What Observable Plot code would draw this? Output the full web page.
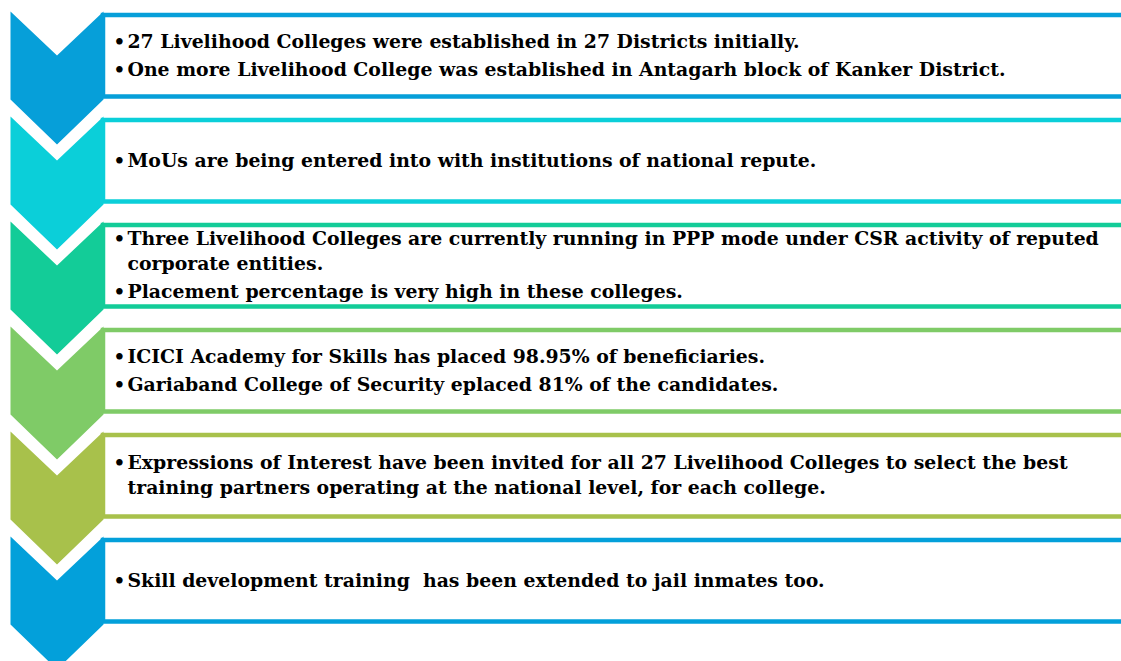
<!DOCTYPE html>
<html>
<head>
<meta charset="utf-8">
<script src="https://cdn.jsdelivr.net/npm/d3@7"></script>
<script src="https://cdn.jsdelivr.net/npm/@observablehq/plot@0.6"></script>
<style>
  html, body { margin: 0; padding: 0; background: #ffffff; }
  #chart svg text { white-space: pre; }
</style>
</head>
<body>
<div id="chart"></div>
<script>
// ---- data: one entry per step; each step holds paragraphs (bullets), each paragraph holds its lines
const step1 = [
  ["27 Livelihood Colleges were established in 27 Districts initially."],
  ["One more Livelihood College was established in Antagarh block of Kanker District."]
];
const step2 = [
  ["MoUs are being entered into with institutions of national repute."]
];
const step3 = [
  ["Three Livelihood Colleges are currently running in PPP mode under CSR activity of reputed", "corporate entities."],
  ["Placement percentage is very high in these colleges."]
];
const step4 = [
  ["ICICI Academy for Skills has placed 98.95% of beneficiaries."],
  ["Gariaband College of Security eplaced 81% of the candidates."]
];
const step5 = [
  ["Expressions of Interest have been invited for all 27 Livelihood Colleges to select the best", "training partners operating at the national level, for each college."]
];
const step6 = [
  ["Skill development training  has been extended to jail inmates too."]
];
const steps = [step1, step2, step3, step4, step5, step6];
const stepIds = ["1", "2", "3", "4", "5", "6"];

// ---- styles
const palette = ["#069fd9", "#0bcfd9", "#13cc98", "#7fcb67", "#a8c14b", "#03a0da"];
const W = 1121, H = 661;
const FONT = '"DejaVu Serif", serif';
const fontSize = 18.4;

// ---- layout (derived from step index)
const STEP = 105, BOX_TOP = 15, BOX_BOTTOM = 96.5;
const CHEV_X1 = 10, CHEV_X2 = 103;
const LINE_GAP = 25, PARA_GAP = 28;

const boxes = stepIds.map((id, i) => ({
  id, x1: CHEV_X2, x2: W + 10,
  y1: BOX_TOP + STEP * i, y2: BOX_BOTTOM + STEP * i
}));

const chevrons = [];
stepIds.forEach((id, i) => {
  const t = BOX_TOP + STEP * i - 4;
  const mid = (CHEV_X1 + CHEV_X2) / 2;
  [[CHEV_X1, t], [mid, t + 44], [CHEV_X2, t], [CHEV_X2, t + 88], [mid, t + 133], [CHEV_X1, t + 88]]
    .forEach(([x, y]) => chevrons.push({id, x, y}));
});

const lines = [], bullets = [];
steps.forEach((paras, i) => {
  const offs = [];
  let o = 0, first = true;
  paras.forEach((p) => {
    p.forEach((txt, li) => {
      if (!first) o += (li === 0 ? PARA_GAP : LINE_GAP);
      first = false;
      offs.push({txt, li, o});
    });
  });
  const c = (boxes[i].y1 + boxes[i].y2) / 2 + 5.5 - o / 2;
  offs.forEach(({txt, li, o}) => {
    lines.push({id: stepIds[i], text: txt, x: 127, y: c + o});
    if (li === 0) bullets.push({id: stepIds[i], text: "•", x: 113, y: c + o});
  });
});

const textOpts = {
  text: "text", x: "x", y: "y", textAnchor: "start", lineAnchor: "bottom",
  fontSize, fontWeight: "bold", fontFamily: FONT, fill: "#000000"
};

const chart = Plot.plot({
  width: W, height: H, margin: 0,
  x: {domain: [0, W], range: [0, W], axis: null},
  y: {domain: [0, H], range: [0, H], axis: null},
  color: {domain: stepIds, range: palette},
  style: {background: "#ffffff", fontFamily: FONT},
  marks: [
    Plot.rect(boxes, {x1: "x1", x2: "x2", y1: "y1", y2: "y2", fill: "#ffffff", stroke: "id", strokeWidth: 4.5}),
    Plot.line(chevrons, {x: "x", y: "y", z: "id", fill: "id", stroke: null, curve: "linear-closed"}),
    Plot.text(bullets, textOpts),
    Plot.text(lines, textOpts)
  ]
});
document.getElementById("chart").appendChild(chart);

// condense the body text horizontally so the longest line spans the same width as the original
const texts = Array.from(chart.querySelectorAll("text")).filter(t => t.textContent !== "•");
const refEl = texts.find(t => t.textContent === step1[1][0]);
const k = refEl ? 878 / refEl.getComputedTextLength() : 1;
texts.forEach(t => {
  const len = t.getComputedTextLength();
  t.setAttribute("textLength", (len * k).toFixed(1));
  t.setAttribute("lengthAdjust", "spacingAndGlyphs");
});
</script>
</body>
</html>
